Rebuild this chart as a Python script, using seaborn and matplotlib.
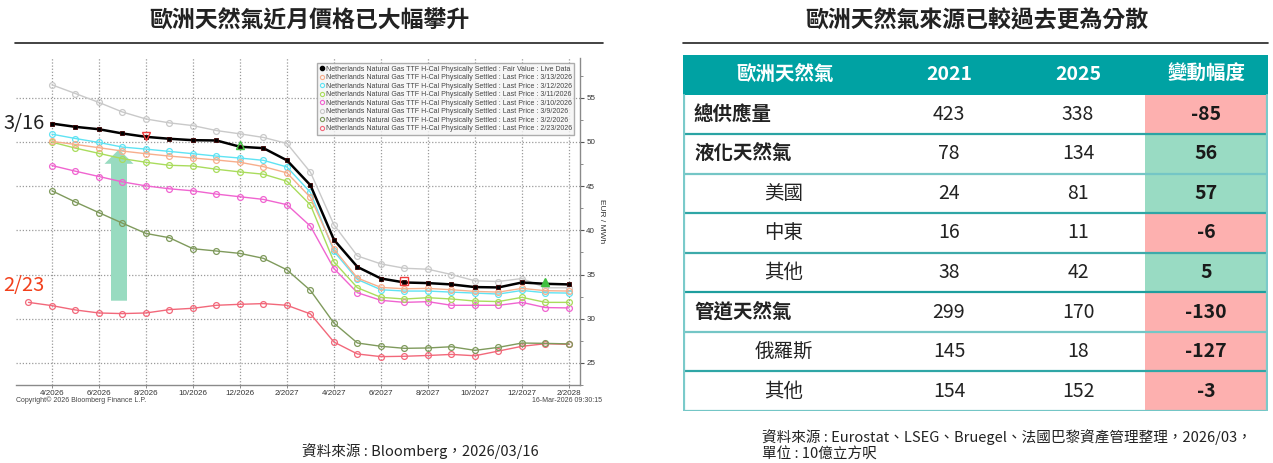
import matplotlib
matplotlib.use("Agg")
import matplotlib.pyplot as plt
from matplotlib.lines import Line2D
from matplotlib.patches import FancyArrow, Rectangle
import numpy as np
import pandas as pd
import seaborn as sns

# ---------------- data ----------------
left_title = "歐洲天然氣近月價格已大幅攀升"
right_title = "歐洲天然氣來源已較過去更為分散"

# month index 0 = 3/2026 ... 23 = 2/2028
tick_labels = ["4/2026", "6/2026", "8/2026", "10/2026", "12/2026", "2/2027",
               "4/2027", "6/2027", "8/2027", "10/2027", "12/2027", "2/2028"]

fair_value = [52.08, 51.71, 51.44, 50.96, 50.58, 50.36, 50.20, 50.17, 49.46, 49.30, 47.92, 45.10,
              38.93, 35.86, 34.55, 34.10, 34.03, 33.88, 33.58, 33.54, 34.10, 33.95, 33.88]
price_0313 = [50.06, 49.72, 49.35, 48.97, 48.67, 48.40, 48.18, 47.96, 47.70, 47.21, 46.50, 43.73,
              37.87, 34.60, 33.54, 33.39, 33.43, 33.28, 33.09, 33.01, 33.43, 33.17, 33.13]
price_0312 = [50.88, 50.39, 49.94, 49.42, 49.19, 48.93, 48.67, 48.40, 48.18, 47.92, 47.17, 44.29,
              37.62, 34.44, 33.28, 33.13, 33.13, 33.01, 32.90, 32.79, 33.20, 32.94, 32.90]
price_0311 = [49.98, 49.30, 48.71, 48.11, 47.70, 47.36, 47.28, 46.91, 46.61, 46.35, 45.56, 42.87,
              36.43, 33.50, 32.42, 32.23, 32.38, 32.23, 32.00, 31.94, 32.42, 31.85, 31.85]
price_0310 = [47.33, 46.69, 46.09, 45.48, 45.03, 44.70, 44.47, 44.10, 43.80, 43.50, 42.90, 40.47,
              35.67, 32.94, 32.08, 31.85, 31.93, 31.52, 31.52, 31.52, 31.85, 31.26, 31.22]
price_0309 = [56.46, 55.48, 54.47, 53.39, 52.60, 52.16, 51.85, 51.29, 50.92, 50.51, 49.83, 46.57,
              40.62, 37.10, 36.20, 35.71, 35.60, 35.00, 34.29, 34.21, 34.55, 33.50, 33.50]
price_0302 = [44.47, 43.20, 42.00, 40.81, 39.65, 39.16, 37.92, 37.66, 37.39, 36.83, 35.53, 33.20,
              29.50, 27.25, 26.88, 26.65, 26.69, 26.83, 26.42, 26.76, 27.25, 27.21, 27.15]
price_0223 = [31.85, 31.48, 30.99, 30.65, 30.58, 30.65, 31.03, 31.18, 31.52, 31.63, 31.71, 31.52, 30.54,
              27.36, 26.01, 25.71, 25.75, 25.84, 25.96, 25.81, 26.34, 26.88, 27.17, 27.10]

legend_prefix = "Netherlands Natural Gas TTF H-Cal Physically Settled : "
series_names = ["Fair Value : Live Data", "Last Price : 3/13/2026", "Last Price : 3/12/2026",
                "Last Price : 3/11/2026", "Last Price : 3/10/2026", "Last Price : 3/9/2026",
                "Last Price : 3/2/2026", "Last Price : 2/23/2026"]
series_values = [fair_value, price_0313, price_0312, price_0311, price_0310, price_0309,
                 price_0302, price_0223]
series_start = [1, 1, 1, 1, 1, 1, 1, 0]
series_colors = ["#000000", "#F7AE8C", "#5FE3F3", "#A9DC5C", "#F064D0", "#C9C9C9",
                 "#7F9A5C", "#F2687A"]

# table data
tbl_header = ["歐洲天然氣", "2021", "2025", "變動幅度"]
tbl_rows = ["總供應量", "液化天然氣", "美國", "中東", "其他", "管道天然氣", "俄羅斯", "其他"]
tbl_main = [True, True, False, False, False, True, False, False]
val_2021 = [423, 78, 24, 16, 38, 299, 145, 154]
val_2025 = [338, 134, 81, 11, 42, 170, 18, 152]
val_change = [-85, 56, 57, -6, 5, -130, -127, -3]

src_left = "資料來源 : Bloomberg，2026/03/16"
src_right1 = "資料來源 : Eurostat、LSEG、Bruegel、法國巴黎資產管理整理，2026/03，"
src_right2 = "單位 : 10億立方呎"

# ---------------- style ----------------
sns.set_theme(style="white")
plt.rcParams["font.family"] = ["Noto Sans CJK TC", "DejaVu Sans"]
BB = ["Liberation Sans", "DejaVu Sans"]

W, H = 1273, 463
fig = plt.figure(figsize=(W / 100, H / 100), dpi=100)
fig.patch.set_facecolor("white")


def box(x0, y0, x1, y1):
    return [x0 / W, 1 - y1 / H, (x1 - x0) / W, (y1 - y0) / H]


def fx(x):
    return x / W


def fy(y):
    return 1 - y / H


# ---------------- left chart ----------------
ax = fig.add_axes(box(16, 58, 580, 385))
ax.set_facecolor("white")

rows = []
for name, vals, st in zip(series_names, series_values, series_start):
    for i, v in enumerate(vals):
        rows.append({"series": name, "month": st + i, "price": v})
df = pd.DataFrame(rows)

# draw in reverse so the live curve is on top
for k in range(len(series_names) - 1, -1, -1):
    name = series_names[k]
    sub = df[df["series"] == name]
    if k == 0:
        sns.lineplot(data=sub, x="month", y="price", ax=ax, color="#000000", lw=1.8,
                     marker="s", markersize=3.2, markerfacecolor="#000000",
                     markeredgecolor="#3a0000", markeredgewidth=0.6, zorder=5,
                     legend=False, sort=False)
    else:
        sns.lineplot(data=sub, x="month", y="price", ax=ax, color=series_colors[k], lw=1.0,
                     marker="o", markersize=4.2, markerfacecolor="none",
                     markeredgecolor=series_colors[k], markeredgewidth=0.9, zorder=3,
                     legend=False, sort=False)

# Bloomberg highlight markers on the live curve
hl_month = [5, 9, 16, 22]
hl_marker = ["v", "^", "s", "^"]
hl_face = ["none", "none", "none", "#3FBF3F"]
hl_edge = ["#F03C3C", "#3FBF3F", "#F03C3C", "#3FBF3F"]
for m, mk, fc, ec in zip(hl_month, hl_marker, hl_face, hl_edge):
    ax.plot([m], [fair_value[m - 1] + 0.15], marker=mk, markersize=6, markerfacecolor=fc,
            markeredgecolor=ec, markeredgewidth=1.0, linestyle="none", zorder=6)

ax.set_xlim(-0.53, 23.47)
ax.set_ylim(22.75, 59.5)
ax.set_xticks(range(1, 24, 2))
ax.set_xticklabels(tick_labels, fontsize=5.8, family=BB, color="#333333")
ax.yaxis.tick_right()
ax.yaxis.set_label_position("right")
ax.set_yticks([25, 30, 35, 40, 45, 50, 55])
ax.set_yticks(np.arange(22.5, 59, 2.5), minor=True)
ax.set_yticklabels(["25", "30", "35", "40", "45", "50", "55"], fontsize=5.8,
                   family=BB, color="#333333")
ax.tick_params(axis="y", which="major", direction="out", length=3, width=0.8,
               color="#555555", pad=1.5, right=True, left=False)
ax.tick_params(axis="y", which="minor", direction="out", length=2, width=0.6,
               color="#777777", right=True, left=False)
ax.tick_params(axis="x", which="major", direction="out", length=2, width=0.6,
               color="#777777", pad=1.5, bottom=True)
ax.set_xlabel("")
ax.set_ylabel("EUR / MWh", fontsize=6.0, family=BB, color="#333333", rotation=-90,
              labelpad=7)
ax.grid(True, which="major", color="#9A9A9A", linestyle=(0, (1, 1.5)), linewidth=0.9)
ax.set_axisbelow(True)
for s in ["left", "top"]:
    ax.spines[s].set_visible(False)
for s in ["right", "bottom"]:
    ax.spines[s].set_color("#8A8A8A")
    ax.spines[s].set_linewidth(1.0)

# legend
handles = []
for k, name in enumerate(series_names):
    if k == 0:
        h = Line2D([], [], marker="o", linestyle="none", markersize=3, color="#000000")
    else:
        h = Line2D([], [], marker="o", linestyle="none", markersize=3,
                   markerfacecolor="none", markeredgecolor=series_colors[k],
                   markeredgewidth=0.8)
    handles.append(h)
leg = ax.legend(handles, [legend_prefix + n for n in series_names],
                loc="upper right", bbox_to_anchor=(0.996, 0.995),
                prop={"family": BB, "size": 5.0}, handlelength=0.6, handletextpad=0.3,
                labelspacing=0.22, borderpad=0.35, frameon=True, fancybox=False,
                shadow=False)
leg.get_frame().set_facecolor("#F4F4F4")
leg.get_frame().set_edgecolor("#9A9A9A")
leg.get_frame().set_linewidth(1.0)
for t in leg.get_texts():
    t.set_color("#444444")
leg.set_zorder(10)

# big green arrow (figure-pixel geometry)
arrow = FancyArrow(fx(119), fy(300.7), 0, fy(149.3) - fy(300.7), width=16 / W,
                   head_width=29 / W, head_length=14.5 / H, length_includes_head=True,
                   transform=fig.transFigure, color="#98DBC0", lw=0, zorder=2.5,
                   clip_on=False)
ax.add_patch(arrow)

fig.text(fx(16), fy(400), "Copyright© 2026 Bloomberg Finance L.P.", fontsize=5.0,
         family=BB, color="#444444", ha="left", va="center")
fig.text(fx(602), fy(400), "16-Mar-2026 09:30:15", fontsize=5.0, family=BB,
         color="#444444", ha="right", va="center")

fig.text(fx(3), fy(124), "3/16", fontsize=14.5, color="#222222", ha="left", va="center")
fig.text(fx(3), fy(285), "2/23", fontsize=14.5, color="#F2401C", ha="left", va="center")

# titles and rules
fig.text(fx(309), fy(21), left_title, fontsize=16.5, fontweight="bold", color="#222222",
         ha="center", va="center")
fig.text(fx(977), fy(21), right_title, fontsize=16.5, fontweight="bold", color="#222222",
         ha="center", va="center")
fig.add_artist(Line2D([fx(15), fx(603)], [fy(42.5), fy(42.5)], color="#222222", lw=1.2))
fig.add_artist(Line2D([fx(683), fx(1268)], [fy(42.5), fy(42.5)], color="#222222", lw=1.2))

fig.text(fx(420), fy(451), src_left, fontsize=10.5, color="#222222", ha="center",
         va="center")
fig.text(fx(762), fy(437), src_right1, fontsize=10.5, color="#222222", ha="left",
         va="center")
fig.text(fx(762), fy(455), src_right2, fontsize=10.5, color="#222222", ha="left",
         va="center")

# ---------------- right table ----------------
tx = fig.add_axes(box(683, 55, 1268, 411))
tx.set_xlim(0, 585)
tx.set_ylim(9, 0)
tx.axis("off")

TEAL = "#00A2A3"
RED = "#FDB0AF"
GREEN = "#99DBC3"
col_x = [102, 266, 395, 523]
chg_x0 = 462

tx.add_patch(Rectangle((0, 0), 585, 1, facecolor=TEAL, edgecolor="none"))
for j, h in enumerate(tbl_header):
    tx.text(col_x[j], 0.5, h, fontsize=14, color="white", fontweight="bold",
            ha="center", va="center")

line_cols = ["#2AA4A4", "#74C6C6", "#2FA6A6", "#3DAAAA", "#1E9E9E", "#74C6C6", "#2FA6A6",
             "#74C6C6"]
for i, lab in enumerate(tbl_rows):
    r = i + 1
    fc = RED if val_change[i] < 0 else GREEN
    tx.add_patch(Rectangle((chg_x0, r), 585 - chg_x0, 1, facecolor=fc, edgecolor="none"))
    if tbl_main[i]:
        tx.text(11, r + 0.5, lab, fontsize=14, fontweight="bold", color="#222222",
                ha="left", va="center")
    else:
        tx.text(101, r + 0.5, lab, fontsize=14, color="#222222", ha="center", va="center")
    tx.text(col_x[1], r + 0.5, str(val_2021[i]), fontsize=14, color="#222222",
            ha="center", va="center")
    tx.text(col_x[2], r + 0.5, str(val_2025[i]), fontsize=14, color="#222222",
            ha="center", va="center")
    tx.text(col_x[3], r + 0.5, str(val_change[i]), fontsize=14, fontweight="bold",
            color="#1A1A1A", ha="center", va="center")
    tx.plot([0, 585], [r + 1, r + 1], color=line_cols[i], lw=1.6, solid_capstyle="butt")

tx.plot([0.8, 0.8], [1, 9], color="#7ACACA", lw=1.6)
tx.plot([584.2, 584.2], [1, 9], color="#7ACACA", lw=1.6)

fig.savefig("out.png", dpi=100, facecolor="white")
